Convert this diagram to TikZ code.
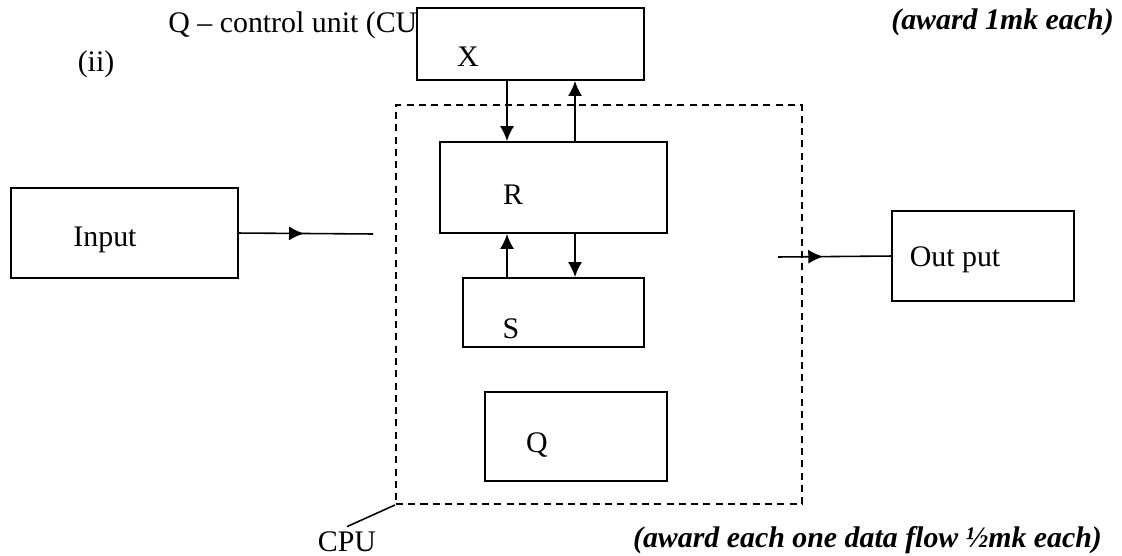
\documentclass[tikz,border=0pt]{standalone}
\usepackage{fontspec}
\setmainfont{Liberation Serif}
\usetikzlibrary{arrows.meta,decorations.markings}
\tikzset{>={Latex[length=8.5pt,width=8pt]}}
\tikzset{
    box/.style={draw, line width=1.1pt, fill=white, inner sep=0pt, anchor=south west},
    lbl/.style={inner sep=0pt},
    flow/.style={->, line width=.9pt},
    midarrow/.style={line width=.9pt, postaction={decorate},
        decoration={markings, mark=at position #1 with {\arrow{>}}}}
}

\begin{document}
\begin{tikzpicture}[font=\fontsize{17}{20}\selectfont]
    \useasboundingbox(0, 0)rectangle(22.44, 11.12);
    \node[lbl, anchor=west](qline)at(3.36, 10.62){Q – control unit (CU};
    \node[lbl](ii)at(1.92, 9.84){(ii)};
    \node[lbl, font=\fontsize{17}{20}\selectfont\bfseries\itshape](award1)at(20.05, 10.68){(award 1mk each)};
    % the CPU and its parts
    \node[box, fill=none, line width=1pt, dash pattern=on 4pt off 3pt,
        minimum width=8.12cm, minimum height=7.98cm](cpu)at(7.90, 1.02){};
    \node[box, minimum width=4.54cm, minimum height=1.44cm](x)at(8.32, 9.50){};
    \node[box, minimum width=4.54cm, minimum height=1.82cm](r)at(8.78, 6.44){};
    \node[box, minimum width=3.62cm, minimum height=1.38cm](s)at(9.24, 4.16){};
    \node[box, minimum width=3.64cm, minimum height=1.78cm](q)at(9.68, 1.48){};
    \node[box, minimum width=4.54cm, minimum height=1.80cm](input)at(0.20, 5.54){};
    \node[box, minimum width=3.64cm, minimum height=1.80cm](output)at(17.82, 5.08){};
    \node[lbl](xtxt)at(9.36, 9.98){X};
    \node[lbl](rtxt)at(10.26, 7.22){R};
    \node[lbl](stxt)at(10.22, 4.54){S};
    \node[lbl](qtxt)at(10.74, 2.22){Q};
    \node[lbl](intxt)at(2.10, 6.32){Input};
    \node[lbl](outtxt)at(19.10, 5.92){Out put};
    \node[lbl](cputxt)at(6.94, 0.28){CPU};
    \node[lbl, font=\fontsize{17}{20}\selectfont\bfseries\itshape](award2)at(17.35, 0.32){(award each one data flow ½mk each)};
    % data flow
    \coordinate(col1)at(10.14, 0);
    \coordinate(col2)at(11.50, 0);
    \coordinate(inend)at(7.46, 6.44);
    \coordinate(outstart)at(15.56, 5.98);
    \draw[flow](x.south -| col1)--(r.north -| col1);
    \draw[flow](r.north -| col2)--(x.south -| col2);
    \draw[flow](s.north -| col1)--(r.south -| col1);
    \draw[flow](r.south -| col2)--(s.north -| col2);
    \draw[midarrow=.485](input.east)--(inend);
    \draw[midarrow=.40](outstart)--(output.west);
    \draw[line width=.9pt](cpu.south west)--([yshift=.1cm]cputxt.north);
\end{tikzpicture}
\end{document}
